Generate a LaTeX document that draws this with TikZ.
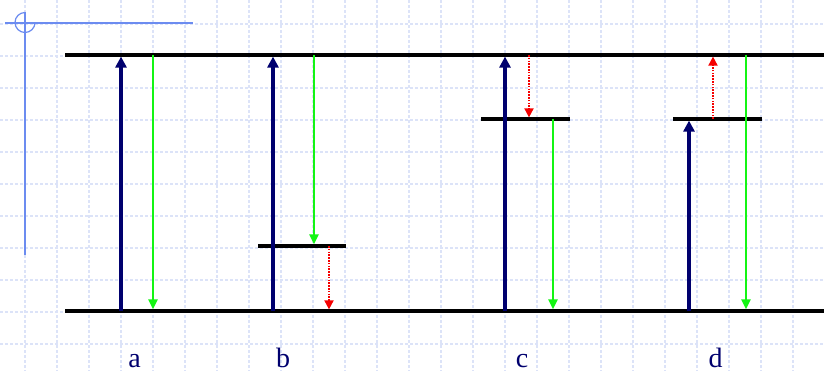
\documentclass[tikz,border=0pt]{standalone}
\usepackage{fontspec}
\setmainfont{Liberation Serif}
\usetikzlibrary{arrows.meta}
\definecolor{gridblue}{RGB}{220,227,248}
\definecolor{markblue}{RGB}{108,140,240}
\definecolor{absnavy}{RGB}{0,0,110}
\definecolor{emitgreen}{RGB}{20,245,20}
\definecolor{relaxred}{RGB}{245,0,0}
\tikzset{
  level/.style={black,line width=3.2pt},
  absorb/.style={absnavy,line width=3.2pt,shorten >=1.6pt,-{Triangle[width=11pt,length=11pt]}},
  emit/.style={emitgreen,line width=2.4pt,shorten >=1.6pt,-{Triangle[width=9pt,length=10pt]}},
  relax/.style={relaxred,line width=1.8pt,dash pattern=on 1.6pt off 1.2pt,shorten >=1.6pt,-{Triangle[width=9pt,length=9pt]}},
  lbl/.style={absnavy,font=\fontsize{28}{28}\selectfont,anchor=base,inner sep=0pt}
}
\begin{document}
\begin{tikzpicture}[x=1pt,y=-1pt]
  \useasboundingbox (0,0) rectangle (824,371);
  \foreach \x in {25,57,...,825} {\draw[gridblue,line width=1.2pt,dash pattern=on 3pt off 2pt] (\x,0)--(\x,371);}
  \foreach \y in {24,56,...,344} {\draw[gridblue,line width=1.2pt,dash pattern=on 3pt off 2pt] (0,\y)--(824,\y);}
  \draw[markblue,line width=1.6pt] (5,23) -- (193,23) (25,12) -- (25,255);
  \draw[markblue,line width=1.2pt] (25,12.5) arc[start angle=270,end angle=0,radius=10];
  % energy levels
  \coordinate (top) at (65,55);
  \coordinate (bot) at (65,311);
  \coordinate (midb) at (258,246);
  \coordinate (midc) at (481,119);
  \coordinate (midd) at (673,119);
  \draw[level] (top) -- (824,55);
  \draw[level] (bot) -- (824,311);
  \draw[level] (midb) -- (346,246);
  \draw[level] (midc) -- (570,119);
  \draw[level] (midd) -- (762,119);
  % columns
  \coordinate (a1) at (121,0);
  \coordinate (a2) at (153,0);
  \coordinate (b1) at (273,0);
  \coordinate (b2) at (314,0);
  \coordinate (b3) at (329,0);
  \coordinate (c1) at (505,0);
  \coordinate (c2) at (529,0);
  \coordinate (c3) at (553,0);
  \coordinate (d1) at (689,0);
  \coordinate (d2) at (713,0);
  \coordinate (d3) at (746,0);
  \draw[absorb] (a1 |- bot) -- (a1 |- top);
  \draw[emit] (a2 |- top) -- (a2 |- bot);
  \draw[absorb] (b1 |- bot) -- (b1 |- top);
  \draw[emit] (b2 |- top) -- (b2 |- midb);
  \draw[relax] (b3 |- midb) -- (b3 |- bot);
  \draw[absorb] (c1 |- bot) -- (c1 |- top);
  \draw[relax] (c2 |- top) -- (c2 |- midc);
  \draw[emit] (c3 |- midc) -- (c3 |- bot);
  \draw[absorb] (d1 |- bot) -- (d1 |- midd);
  \draw[relax] (d2 |- midd) -- (d2 |- top);
  \draw[emit] (d3 |- top) -- (d3 |- bot);
  \node[lbl] (la) at (134.5,367) {a};
  \node[lbl] (lb) at (283,367) {b};
  \node[lbl] (lc) at (522,367) {c};
  \node[lbl] (ld) at (715.5,367) {d};
\end{tikzpicture}
\end{document}
